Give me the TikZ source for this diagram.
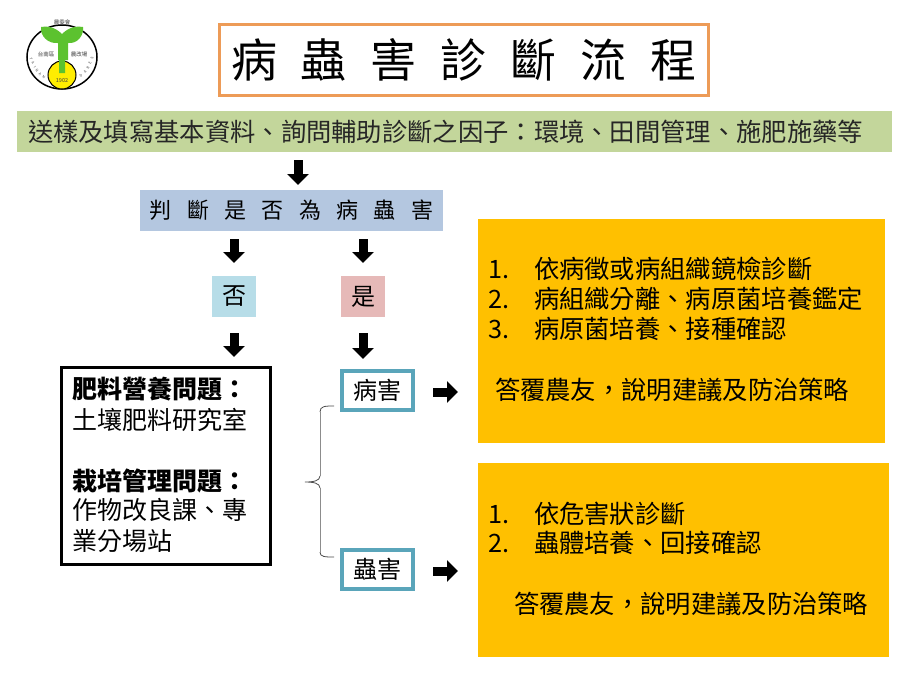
\documentclass[tikz,border=0pt]{standalone}
\usepackage{fontspec}
\setmainfont{Noto Sans CJK TC}
\usetikzlibrary{arrows.meta,decorations.text}
\definecolor{orangeline}{HTML}{ED9B57}
\definecolor{bannergreen}{HTML}{C3D69B}
\definecolor{bannerblue}{HTML}{B4C7E0}
\definecolor{nobox}{HTML}{B7DDE8}
\definecolor{yesbox}{HTML}{E6B9B8}
\definecolor{tealline}{HTML}{5AA5BA}
\definecolor{gold}{HTML}{FFC000}
\definecolor{leaf}{HTML}{5CC22F}
\newcommand{\tg}{\hspace{24pt}}
\newcommand{\pg}{\hspace{15.3pt}}
\tikzset{
  x=1pt,y=-1pt,
  boxed/.style={inner sep=0pt,outer sep=0pt,align=center},
  body/.style={inner sep=0pt,outer sep=0pt,anchor=west,font=\fontsize{25.3pt}{30pt}\selectfont,text height=20pt,text depth=4pt},
  blockarrow/.style={line width=9pt,-{Triangle[width=21pt,length=11pt]},black},
  tealbox/.style={boxed,draw=tealline,line width=4pt,minimum width=71pt,minimum height=39pt,font=\fontsize{24pt}{30pt}\selectfont},
  goldbox/.style={boxed,fill=gold},
  logotext/.style={inner sep=0pt,font=\fontsize{5.5pt}{6pt}\selectfont,text=black!75},
  logoletter/.style={inner sep=0pt,font=\fontsize{3.6pt}{4pt}\selectfont,text=black!75}
}
\begin{document}
\begin{tikzpicture}
\useasboundingbox (0,0) rectangle (912,681);
\fill[white] (0,0) rectangle (912,681);
% logo
\draw[black,line width=1.5pt] (62,57) ellipse (35 and 32);
\fill[yellow!95!orange] (62,75) circle (14);
\draw[black,line width=1pt] (62,75) circle (14);
\fill[leaf] (41,27) .. controls (52,25) and (59,31) .. (62,34)
  .. controls (65,31) and (72,25) .. (83,27)
  .. controls (84,36) and (77,44) .. (68,43) -- (68,60) -- (65,60) -- (65,73) -- (59,73) -- (59,60) -- (58,60) -- (58,43)
  .. controls (48,44) and (40,36) .. (41,27) -- cycle;
\node[logotext] (logoa) at (62,22) {農委會};
\node[logotext] (logob) at (46,54) {台南區};
\node[logotext] (logoc) at (79,54) {農改場};
\node[logotext] (logod) at (62,81) {1902};
\node[logoletter,rotate=-70] (la) at (31,59) {T};
\node[logoletter,rotate=-62] (lb) at (33,63) {A};
\node[logoletter,rotate=-55] (lc) at (35,67) {I};
\node[logoletter,rotate=-48] (ld) at (37,71) {N};
\node[logoletter,rotate=-40] (le) at (40,74) {A};
\node[logoletter,rotate=-32] (lf) at (44,77) {N};
\node[logoletter,rotate=40] (lg) at (81,76) {D};
\node[logoletter,rotate=50] (lh) at (85,72) {A};
\node[logoletter,rotate=60] (li) at (88,68) {R};
\node[logoletter,rotate=68] (lj) at (90,63) {E};
\node[logoletter,rotate=76] (lk) at (92,58) {S};
% title
\node[boxed,draw=orangeline,line width=3pt,minimum width=489pt,minimum height=71pt,font=\fontsize{46pt}{50pt}\selectfont] (title) at (464,60)
  {病\tg 蟲\tg 害\tg 診\tg 斷\tg 流\tg 程};
% banners
\node[boxed,fill=bannergreen,minimum width=875pt,minimum height=41pt] (banner) at (454.5,131.5) {};
\node[body,text=black!85] (bannertext) at (28,133) {送樣及填寫基本資料、詢問輔助診斷之因子：環境、田間管理、施肥施藥等};
\node[boxed,fill=bannerblue,minimum width=303pt,minimum height=41pt,font=\fontsize{22pt}{26pt}\selectfont] (judge) at (291.5,210.5)
  {判\pg 斷\pg 是\pg 否\pg 為\pg 病\pg 蟲\pg 害};
\node[boxed,fill=nobox,minimum width=44pt,minimum height=41pt,font=\fontsize{24pt}{28pt}\selectfont] (no) at (234,296.5) {否};
\node[boxed,fill=yesbox,minimum width=44pt,minimum height=41pt,font=\fontsize{24pt}{28pt}\selectfont] (yes) at (363,296.5) {是};
% left box
\node[boxed,draw=black,line width=3pt,minimum width=209pt,minimum height=197pt] (fert) at (165.5,465.5) {};
\node[body,font=\fontsize{25pt}{30pt}\selectfont\bfseries] (fa) at (72,390) {肥料營養問題：};
\node[body,font=\fontsize{25pt}{30pt}\selectfont] (fb) at (72,421) {土壤肥料研究室};
\node[body,font=\fontsize{25pt}{30pt}\selectfont\bfseries] (fc) at (72,482) {栽培管理問題：};
\node[body,font=\fontsize{25pt}{30pt}\selectfont] (fd) at (72,511) {作物改良課、專};
\node[body,font=\fontsize{25pt}{30pt}\selectfont] (fe) at (72,542) {業分場站};
% teal
\node[tealbox] (bing) at (377.5,390.5) {病害};
\node[tealbox] (chong) at (377.5,569.5) {蟲害};
% gold
\node[goldbox,minimum width=407pt,minimum height=224pt] (goldone) at (681.5,331) {};
\node[goldbox,minimum width=411pt,minimum height=194pt] (goldtwo) at (683.5,560) {};
\node[body] (a1) at (488,270) {1.};
\node[body] (a1t) at (534,270) {依病徵或病組織鏡檢診斷};
\node[body] (a2) at (488,300) {2.};
\node[body] (a2t) at (534,300) {病組織分離、病原菌培養鑑定};
\node[body] (a3) at (488,330) {3.};
\node[body] (a3t) at (534,330) {病原菌培養、接種確認};
\node[body] (a4) at (495,391) {答覆農友，說明建議及防治策略};
\node[body] (b1) at (488,515) {1.};
\node[body] (b1t) at (534,515) {依危害狀診斷};
\node[body] (b2) at (488,544) {2.};
\node[body] (b2t) at (534,544) {蟲體培養、回接確認};
\node[body] (b3) at (514,605) {答覆農友，說明建議及防治策略};
% arrows
\coordinate (acol) at (298,150);
\draw[blockarrow,shorten <=8pt,shorten >=5pt] (banner.south -| acol) -- (judge.north -| acol);
\draw[blockarrow,shorten <=8pt,shorten >=13pt] (judge.south -| no.north) -- (no.north);
\draw[blockarrow,shorten <=8pt,shorten >=13pt] (judge.south -| yes.north) -- (yes.north);
\draw[blockarrow,shorten <=16pt,shorten >=10pt] (no.south) -- (no.south |- fert.north);
\draw[blockarrow,shorten <=16pt,shorten >=12pt] (yes.south) -- (yes.south |- bing.north);
\draw[blockarrow,shorten <=20pt,shorten >=20pt] (bing.east |- 0,392) -- (goldone.west |- 0,392);
\draw[blockarrow,shorten <=20pt,shorten >=20pt] (chong.east |- 0,571) -- (goldtwo.west |- 0,571);
% brace
\coordinate (braceA) at (334,406);
\coordinate (braceB) at (334,557);
\coordinate (braceT) at (305,482);
\draw[black!45,line width=1pt] (320,412) -- (320,476) (320,488) -- (320,552);
\draw[black!70,line width=.8pt] (braceA) .. controls (325,406) and (320,406) .. (320,412);
\draw[black!70,line width=.8pt] (braceB) .. controls (325,557) and (320,557) .. (320,552);
\draw[black!70,line width=.8pt] (320,476) .. controls (320,481) and (313,482) .. (braceT) .. controls (313,482) and (320,483) .. (320,488);
\end{tikzpicture}
\end{document}
